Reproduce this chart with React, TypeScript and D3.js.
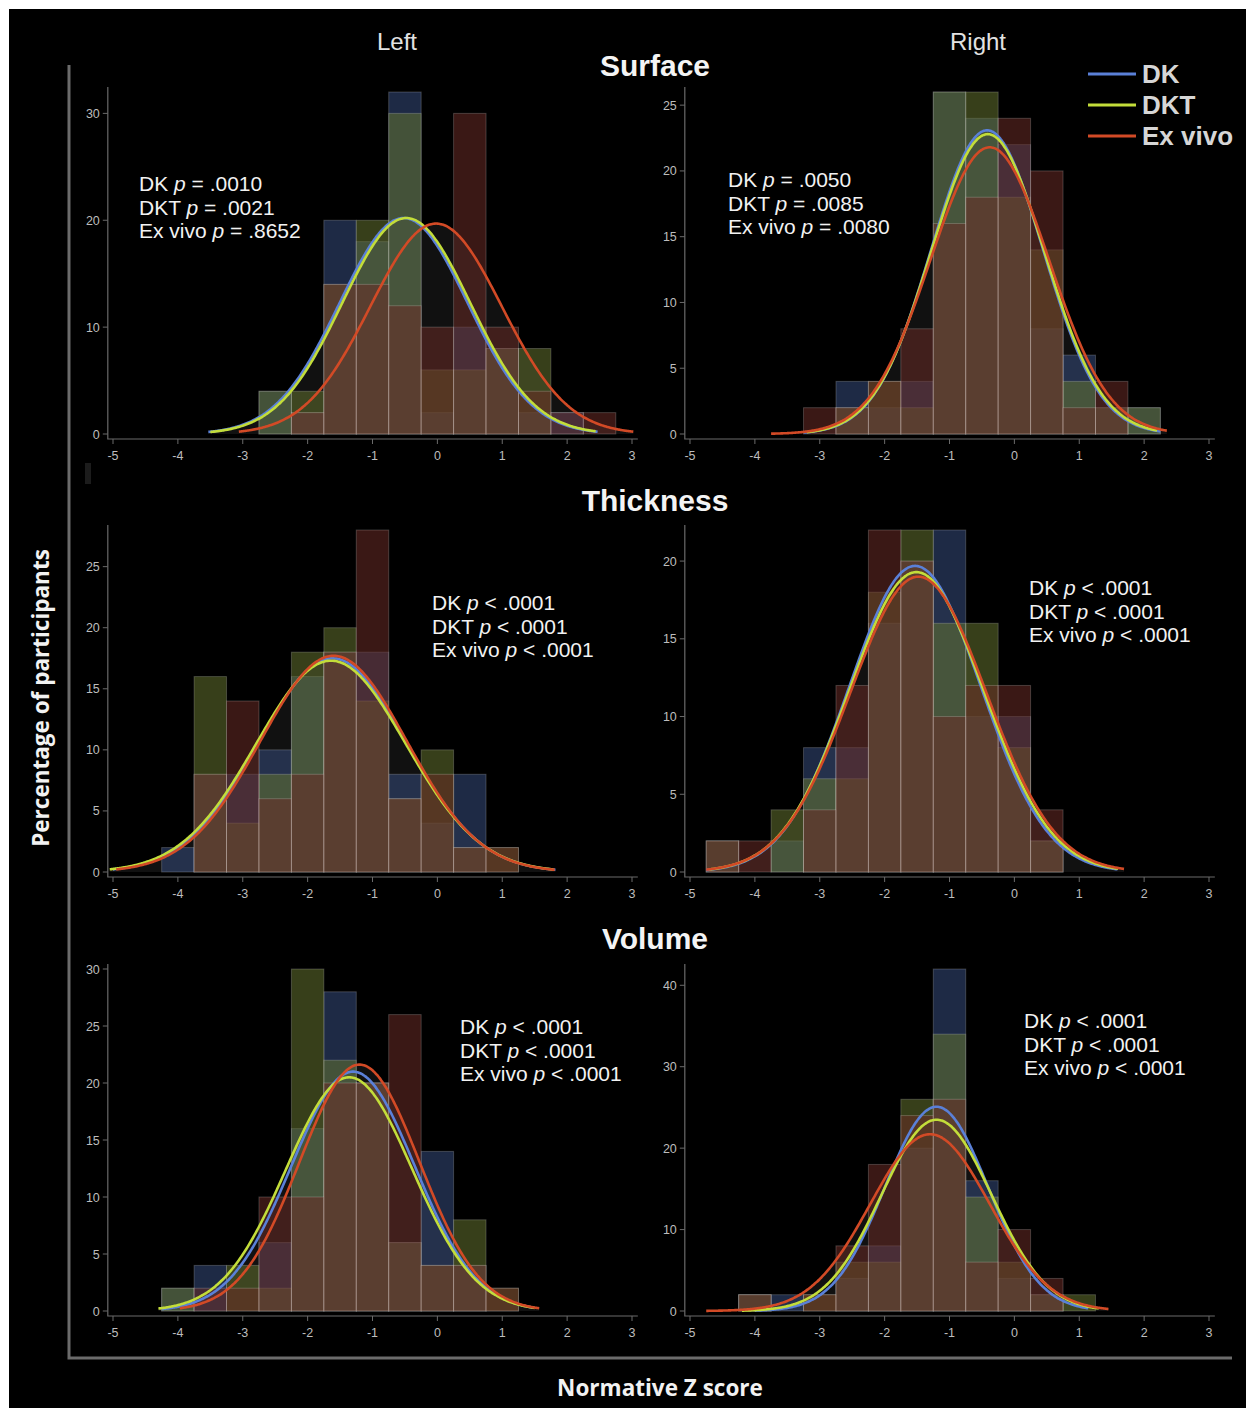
import React from 'react'
import * as d3 from 'd3'

const W = 1246
const H = 1408

// histogram bins are 0.5 wide, centred on these z values
const binCenters = [-4.5, -4, -3.5, -3, -2.5, -2, -1.5, -1, -0.5, 0, 0.5, 1, 1.5, 2, 2.5]
const xTicks = [-5, -4, -3, -2, -1, 0, 1, 2, 3]
const seriesNames = ['DK', 'DKT', 'Ex vivo']

// percentage of participants per bin
const surfaceLeftDK = [0, 0, 0, 0, 4, 2, 20, 18, 32, 2, 10, 8, 2, 2, 0]
const surfaceLeftDKT = [0, 0, 0, 0, 4, 4, 14, 20, 30, 6, 6, 8, 8, 0, 0]
const surfaceLeftEx = [0, 0, 0, 0, 0, 2, 14, 14, 12, 10, 30, 10, 4, 2, 2]

const surfaceRightDK = [0, 0, 0, 0, 4, 2, 4, 26, 24, 22, 8, 6, 2, 2, 0]
const surfaceRightDKT = [0, 0, 0, 0, 2, 4, 2, 26, 26, 18, 14, 4, 2, 2, 0]
const surfaceRightEx = [0, 0, 0, 2, 2, 4, 8, 16, 18, 24, 20, 2, 4, 0, 0]

const thickLeftDK = [0, 2, 8, 8, 10, 16, 18, 18, 8, 4, 8, 0, 0, 0, 0]
const thickLeftDKT = [0, 0, 16, 4, 8, 18, 20, 14, 6, 10, 2, 2, 0, 0, 0]
const thickLeftEx = [0, 0, 8, 14, 6, 8, 18, 28, 6, 8, 2, 2, 0, 0, 0]

const thickRightDK = [2, 0, 2, 8, 8, 16, 20, 22, 10, 10, 2, 0, 0, 0, 0]
const thickRightDKT = [2, 0, 4, 6, 6, 18, 22, 16, 16, 8, 2, 0, 0, 0, 0]
const thickRightEx = [2, 2, 0, 4, 12, 22, 20, 10, 12, 12, 4, 0, 0, 0, 0]

const volLeftDK = [0, 2, 4, 0, 6, 16, 28, 20, 6, 14, 4, 0, 0, 0, 0]
const volLeftDKT = [0, 2, 0, 4, 2, 30, 22, 20, 6, 4, 8, 2, 0, 0, 0]
const volLeftEx = [0, 0, 2, 2, 10, 10, 20, 20, 26, 4, 4, 2, 0, 0, 0]

const volRightDK = [0, 2, 2, 0, 4, 8, 20, 42, 16, 4, 2, 0, 0, 0, 0]
const volRightDKT = [0, 2, 0, 2, 6, 6, 26, 34, 14, 6, 2, 2, 0, 0, 0]
const volRightEx = [0, 2, 0, 2, 8, 18, 24, 26, 6, 10, 4, 0, 0, 0, 0]

// fitted normal per series: [mean, sd, drawn from, drawn to]
const surfaceLeftFit = [[-0.52, 0.987, -3.53, 2.48], [-0.48, 0.987, -3.5, 2.45], [-0.02, 1.013, -3.06, 3.02]]
const surfaceRightFit = [[-0.42, 0.864, -3.25, 2.25], [-0.41, 0.875, -3.2, 2.2], [-0.38, 0.915, -3.75, 2.35]]
const thickLeftFit = [[-1.62, 1.14, -5.0, 1.82], [-1.64, 1.153, -5.05, 1.8], [-1.6, 1.127, -4.95, 1.82]]
const thickRightFit = [[-1.53, 1.013, -4.75, 1.6], [-1.51, 1.034, -4.7, 1.6], [-1.48, 1.05, -4.75, 1.7]]
const volLeftFit = [[-1.3, 0.95, -4.25, 1.5], [-1.36, 0.973, -4.3, 1.5], [-1.2, 0.923, -3.97, 1.57]]
const volRightFit = [[-1.2, 0.795, -4.0, 1.15], [-1.2, 0.849, -4.2, 1.3], [-1.3, 0.919, -4.75, 1.45]]

const yTicksSurfaceLeft = [0, 10, 20, 30]
const yTicksSurfaceRight = [0, 5, 10, 15, 20, 25]
const yTicksThickLeft = [0, 5, 10, 15, 20, 25]
const yTicksThickRight = [0, 5, 10, 15, 20]
const yTicksVolLeft = [0, 5, 10, 15, 20, 25, 30]
const yTicksVolRight = [0, 10, 20, 30, 40]

const pSurfaceLeft = ['= .0010', '= .0021', '= .8652']
const pSurfaceRight = ['= .0050', '= .0085', '= .0080']
const pThick = ['< .0001', '< .0001', '< .0001']
const pVol = ['< .0001', '< .0001', '< .0001']

const fillColors = ['#374c7d', '#64732f', '#692c26']
const lineColors = ['#5a80d8', '#c3dd3a', '#d24a26']

const sectionTitles = ['Surface', 'Thickness', 'Volume']

const panels = [
  { hist: [surfaceLeftDK, surfaceLeftDKT, surfaceLeftEx], fit: surfaceLeftFit, yTicks: yTicksSurfaceLeft, p: pSurfaceLeft, side: 0, y0: 434, tx: 139, ty: 191 },
  { hist: [surfaceRightDK, surfaceRightDKT, surfaceRightEx], fit: surfaceRightFit, yTicks: yTicksSurfaceRight, p: pSurfaceRight, side: 1, y0: 434, tx: 728, ty: 187 },
  { hist: [thickLeftDK, thickLeftDKT, thickLeftEx], fit: thickLeftFit, yTicks: yTicksThickLeft, p: pThick, side: 0, y0: 872, tx: 432, ty: 610 },
  { hist: [thickRightDK, thickRightDKT, thickRightEx], fit: thickRightFit, yTicks: yTicksThickRight, p: pThick, side: 1, y0: 872, tx: 1029, ty: 595 },
  { hist: [volLeftDK, volLeftDKT, volLeftEx], fit: volLeftFit, yTicks: yTicksVolLeft, p: pVol, side: 0, y0: 1311, tx: 460, ty: 1034 },
  { hist: [volRightDK, volRightDKT, volRightEx], fit: volRightFit, yTicks: yTicksVolRight, p: pVol, side: 1, y0: 1311, tx: 1024, ty: 1028 },
]

const tickFont = 'Liberation Sans, Arial, sans-serif'
const labelFont = 'Open Sans, Lato, sans-serif'

const normal = (x: number, m: number, s: number) =>
  (50 * Math.exp(-0.5 * ((x - m) / s) ** 2)) / (s * Math.sqrt(2 * Math.PI))

const Panel = ({ cfg }: { cfg: any }) => {
  const x5 = cfg.side === 0 ? 113 : 690
  const x = d3.scaleLinear().domain([-5, 3]).range([x5, x5 + 519])
  const maxBar = d3.max(cfg.hist.flat() as number[]) as number
  const y = d3.scaleLinear().domain([0, maxBar]).range([cfg.y0, cfg.y0 - 342])
  const axX = x(-5.08)
  const axY = cfg.y0 + 5

  const curves = cfg.fit.map(([m, s, a, b]: number[]) =>
    d3.range(a, b + 0.0001, 0.02).map(v => [v, normal(v, m, s)] as [number, number])
  )
  const line = d3.line<[number, number]>().x(d => x(d[0])).y(d => y(d[1])).curve(d3.curveBasis)
  const area = d3.area<[number, number]>().x(d => x(d[0])).y0(y(0)).y1(d => y(d[1])).curve(d3.curveBasis)

  return (
    <g>
      {curves.map((c: [number, number][], i: number) => (
        <path key={'a' + i} d={area(c) || ''} fill="#111" />
      ))}
      {cfg.hist.map((vals: number[], i: number) => (
        <g key={'h' + i}>
          {vals.map((v, j) => v > 0 ? (
            <rect key={j}
              x={x(binCenters[j] - 0.25)} y={y(v)}
              width={x(binCenters[j] + 0.25) - x(binCenters[j] - 0.25)} height={y(0) - y(v)}
              fill={fillColors[i]} fillOpacity={0.55}
              stroke="#ffffff" strokeOpacity={0.2} strokeWidth={1} />
          ) : null)}
        </g>
      ))}
      {curves.map((c: [number, number][], i: number) => (
        <path key={'l' + i} d={line(c) || ''} fill="none" stroke={lineColors[i]} strokeWidth={2.6} />
      ))}
      <path d={`M${axX},${y(maxBar) - 5}V${axY}H${x(3.09)}`} fill="none" stroke="#6a6a6a" strokeWidth={1.2} />
      {cfg.yTicks.map((t: number) => (
        <g key={'y' + t}>
          <line x1={axX - 5} x2={axX} y1={y(t)} y2={y(t)} stroke="#6a6a6a" strokeWidth={1} />
          <text x={axX - 8} y={y(t) + 4.5} textAnchor="end" fontSize={12.5} fill="#bdbdbd" fontFamily={tickFont}>{t}</text>
        </g>
      ))}
      {xTicks.map(t => (
        <g key={'x' + t}>
          <line x1={x(t)} x2={x(t)} y1={axY} y2={axY + 5} stroke="#6a6a6a" strokeWidth={1} />
          <text x={x(t)} y={axY + 21} textAnchor="middle" fontSize={12.5} fill="#bdbdbd" fontFamily={tickFont}>{t}</text>
        </g>
      ))}
      {seriesNames.map((n, i) => (
        <text key={'p' + i} x={cfg.tx} y={cfg.ty + i * 23.5} fontSize={21} fill="#f2f2f2" fontFamily={tickFont}>
          <tspan>{n} </tspan><tspan fontStyle="italic">p</tspan><tspan> {cfg.p[i]}</tspan>
        </text>
      ))}
    </g>
  )
}

export default function App() {
  return (
    <div style={{ position: 'absolute', left: 0, top: 0 }}>
      <svg width={W} height={H} style={{ display: 'block' }}>
        <rect x={0} y={0} width={W} height={H} fill="#fff" />
        <rect x={9} y={9} width={W - 9} height={H - 9} fill="#000" />
        <rect x={85} y={463} width={6} height={21} fill="#1c1c1c" />
        <path d="M69,65V1358H1232" fill="none" stroke="#6b6b6b" strokeWidth={3} />
        {panels.map((p, i) => <Panel key={i} cfg={p} />)}
        <text x={397} y={50} textAnchor="middle" fontSize={24} fill="#e2e2e2" fontFamily={tickFont}>Left</text>
        <text x={978} y={50} textAnchor="middle" fontSize={24} fill="#e2e2e2" fontFamily={tickFont}>Right</text>
        {sectionTitles.map((t, i) => (
          <text key={t} x={655} y={[76, 511, 949][i]} textAnchor="middle" fontSize={30} fontWeight="bold" fill="#f4f4f4" fontFamily={tickFont}>{t}</text>
        ))}
        {seriesNames.map((n, i) => (
          <g key={n}>
            <line x1={1088} x2={1136} y1={74 + i * 31} y2={74 + i * 31} stroke={lineColors[i]} strokeWidth={3} />
            <text x={1142} y={83 + i * 31} fontSize={26} fontWeight="bold" fill="#d6d6d6" fontFamily={tickFont}>{n}</text>
          </g>
        ))}
        <text transform="translate(49,698) rotate(-90)" textAnchor="middle" fontSize={22.5} fontWeight="bold" fill="#f2f2f2" fontFamily={labelFont}>Percentage of participants</text>
        <text x={660} y={1396} textAnchor="middle" fontSize={22.5} fontWeight="bold" fill="#f2f2f2" fontFamily={labelFont}>Normative Z score</text>
      </svg>
    </div>
  )
}
